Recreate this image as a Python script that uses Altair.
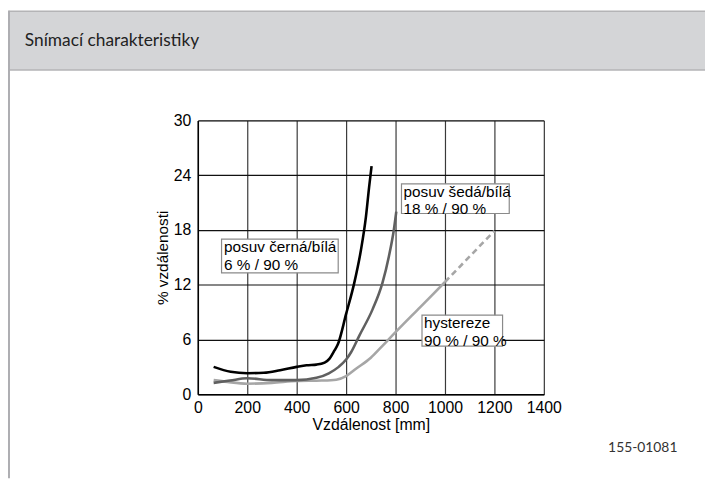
import altair as alt
import pandas as pd

# ---- data ----
black_x = [64, 133, 200, 267, 333, 400, 440, 480, 513, 533, 553, 567, 600, 633, 660, 680, 693, 703]
black_y = [3.0, 2.46, 2.31, 2.35, 2.63, 3.0, 3.18, 3.25, 3.47, 3.9, 4.8, 5.5, 8.8, 12.2, 15.8, 19.4, 22.7, 25.0]

dark_x = [64, 130, 200, 300, 400, 480, 530, 570, 600, 620, 653, 707, 747, 773, 793, 803]
dark_y = [1.25, 1.5, 1.75, 1.55, 1.55, 1.8, 2.3, 3.0, 3.8, 4.6, 6.4, 9.3, 12.2, 15.1, 18.0, 20.0]

light_x = [64, 120, 200, 300, 400, 500, 560, 600, 640, 700, 740, 800, 900, 1000]
light_y = [1.55, 1.35, 1.16, 1.25, 1.45, 1.5, 1.6, 2.0, 2.8, 4.0, 5.1, 6.8, 9.55, 12.3]

dash_x = [1000, 1100, 1200]
dash_y = [12.3, 15.1, 17.9]

x_ticks = [0, 200, 400, 600, 800, 1000, 1200, 1400]
y_ticks = [0, 6, 12, 18, 24, 30]

labels = ["posuv černá/bílá\n6 % / 90 %", "posuv šedá/bílá\n18 % / 90 %", "hystereze\n90 % / 90 %"]
box_x1 = [96, 824, 907]
box_x2 = [568, 1260, 1233]
box_y1 = [17.0, 23.05, 8.66]
box_y2 = [13.3, 19.8, 5.27]
text_x = [106, 832, 915]

title_text = "Snímací charakteristiky"
code_text = "155-01081"

FONT = "Arial, 'Liberation Sans', Helvetica, sans-serif"

xs = alt.Scale(domain=[0, 1400], nice=False)
ys = alt.Scale(domain=[0, 30], nice=False)


def series(xv, yv, color, dash=None):
    df = pd.DataFrame({"x": xv, "y": yv})
    kw = dict(color=color, strokeWidth=2.6, interpolate="monotone")
    if dash:
        kw["strokeDash"] = dash
    return alt.Chart(df).mark_line(**kw).encode(
        x=alt.X("x:Q", scale=xs,
                axis=alt.Axis(values=x_ticks, format="d", labelOverlap=False, labelFlush=False,
                              title="Vzdálenost [mm]", grid=True,
                              gridColor="#3a3a3a", gridWidth=1.2, ticks=False,
                              labelPadding=5, domainColor="#000", domainWidth=1.5,
                              labelFont=FONT, labelFontSize=16, labelColor="#000",
                              titleFont=FONT, titleFontSize=16, titleFontWeight="normal",
                              titleColor="#000", titlePadding=2)),
        y=alt.Y("y:Q", scale=ys,
                axis=alt.Axis(values=y_ticks, format="d", labelOverlap=False, labelFlush=False,
                              title="% vzdálenosti", grid=True,
                              gridColor="#111", gridWidth=1.2, ticks=False,
                              labelPadding=7, domainColor="#000", domainWidth=1.5,
                              labelFont=FONT, labelFontSize=16, labelColor="#000",
                              titleFont=FONT, titleFontSize=15.5, titleFontWeight="normal",
                              titleColor="#000", titlePadding=3)),
    )


lines = [
    series(light_x, light_y, "#a6a6a6"),
    series(dash_x, dash_y, "#a6a6a6", dash=[6, 4]),
    series(dark_x, dark_y, "#606060"),
    series(black_x, black_y, "#000000"),
]

ann = pd.DataFrame({"label": labels, "x1": box_x1, "x2": box_x2, "y1": box_y1,
                    "y2": box_y2, "tx": text_x})

boxes = alt.Chart(ann).mark_rect(fill="white", stroke="#8a8a8a", strokeWidth=1.2).encode(
    x=alt.X("x1:Q", scale=xs), x2="x2:Q", y=alt.Y("y1:Q", scale=ys), y2="y2:Q")

texts = alt.Chart(ann).mark_text(align="left", baseline="top", font=FONT, fontSize=15.5,
                                 lineBreak="\n", lineHeight=18, dy=1, color="#000").encode(
    x=alt.X("tx:Q", scale=xs), y=alt.Y("y1:Q", scale=ys), text="label:N")

one = alt.Data(values=[{"a": 1}])

header = alt.Chart(one).mark_rect(fill="#d4d5d7", stroke="#b4b4b6", strokeWidth=1.5).encode(
    x=alt.value(-191), x2=alt.value(520), y=alt.value(-110.5), y2=alt.value(-51))

left_line = alt.Chart(one).mark_rule(color="#aeaeb2", strokeWidth=2).encode(
    x=alt.value(-191), y=alt.value(-111), y2=alt.value(362))

title = alt.Chart(one).mark_text(align="left", baseline="alphabetic", font="Lato",
                                 fontSize=17.5, color="#222").encode(
    x=alt.value(-175), y=alt.value(-75), text=alt.value(title_text))

code = alt.Chart(one).mark_text(align="left", baseline="middle", font="Lato",
                                fontSize=14, color="#333").encode(
    x=alt.value(415), y=alt.value(331), text=alt.value(code_text))

chart = alt.layer(header, left_line, title, code, *lines, boxes, texts).properties(
    width=350, height=277,
    autosize=alt.AutoSizeParams(type="none"),
    padding={"left": 192, "top": 111, "right": 163, "bottom": 83},
).configure_view(stroke="#222", strokeWidth=1.2).configure(background="white")

chart.save("out.html", embed_options={"renderer": "svg", "actions": False})
